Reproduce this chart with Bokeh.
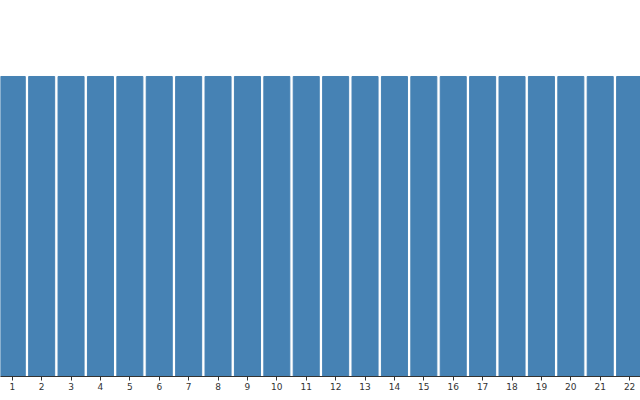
from bokeh.plotting import figure
from bokeh.models import Range1d, FixedTicker
from bokeh.embed import file_html
from bokeh.resources import INLINE

categories = list(range(1, 23))
values = [1] * 22
tick_labels = [str(c) for c in categories]

p = figure(width=640, height=400, output_backend="svg", toolbar_location=None,
           x_range=Range1d(0.6, 22.37), y_range=Range1d(0, 1.2533),
           min_border_left=0, min_border_right=0, min_border_top=0, min_border_bottom=24)
p.vbar(x=categories, top=values, width=0.885, color="#4682B4")

p.yaxis.visible = False
p.xgrid.visible = False
p.ygrid.visible = False
p.outline_line_color = None
p.xaxis.ticker = FixedTicker(ticks=categories)
p.xaxis.major_label_overrides = {c: l for c, l in zip(categories, tick_labels)}
p.xaxis.minor_tick_line_color = None
p.xaxis.major_tick_out = 4
p.xaxis.major_tick_in = 0
p.xaxis.major_label_standoff = 2
p.xaxis.major_label_text_font = "DejaVu Sans"
p.xaxis.major_label_text_font_size = "9px"
p.xaxis.major_label_text_color = "#333333"
p.xaxis.axis_line_color = "#333333"
p.xaxis.major_tick_line_color = "#333333"

open("out.html", "w").write(file_html(p, INLINE))
